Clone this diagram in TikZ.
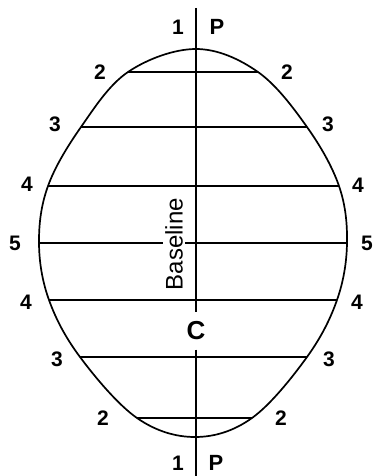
\documentclass[tikz,border=0pt]{standalone}
\usepackage{fontspec}
\setmainfont{Liberation Sans}
\usepackage{tikz}
\usetikzlibrary{calc,positioning}
\tikzset{
  contorno/.style={line width=1.7pt,black},
  nivel/.style={line width=1.7pt,black},
  eje/.style={line width=1.7pt,black},
  num/.style={inner sep=0pt,font=\fontsize{21}{21}\selectfont\bfseries},
  letra/.style={inner sep=0pt,font=\fontsize{22}{22}\selectfont\bfseries}
}

\begin{document}
\begin{tikzpicture}[x=1pt,y=-1pt]
\useasboundingbox (0,0) rectangle (374,476);
% puntos del contorno
\coordinate (T) at (196,49);
\coordinate (L2) at (128,72);   \coordinate (R2) at (258,72);
\coordinate (L3) at (81,127);   \coordinate (R3) at (307,127);
\coordinate (L4) at (48,186);   \coordinate (R4) at (339,186);
\coordinate (L5) at (39,243);   \coordinate (R5) at (347,243);
\coordinate (L4b) at (49,300);  \coordinate (R4b) at (337,300);
\coordinate (L3b) at (80,357);  \coordinate (R3b) at (307,357);
\coordinate (L2b) at (137,418); \coordinate (R2b) at (252,418);
\coordinate (B) at (195,437);
\draw[contorno] plot[smooth cycle,tension=0.6] coordinates
  {(T) (R2) (R3) (R4) (R5) (R4b) (R3b) (R2b) (B) (L2b) (L3b) (L4b) (L5) (L4) (L3) (L2)};
% lineas de nivel
\foreach \n in {2,3,4,5,4b,3b,2b}{
  \draw[nivel] (L\n) -- (R\n);
}
% eje
\coordinate (ejeA) at (196,8);
\coordinate (ejeB) at (196,476);
\node[letra,font=\fontsize{26}{26}\selectfont\bfseries,inner sep=0pt,minimum height=37pt] (C) at (196,331) {C};
\draw[eje] (ejeA) -- (C.north);
\draw[eje] (C.south) -- (ejeB);
\node[rotate=90,fill=white,inner sep=2pt,font=\fontsize{24}{24}\selectfont] (base) at (174,244) {Baseline};
% numeros
\node[num] (n1a) at (178,27) {1};  \node[letra] (pa) at (217,27) {P};
\node[num] (n2l) at (100,72) {2};  \node[num] (n2r) at (287,72) {2};
\node[num] (n3l) at (55,124) {3};  \node[num] (n3r) at (328,124) {3};
\node[num] (n4l) at (27,184) {4};  \node[num] (n4r) at (358,185) {4};
\node[num] (n5l) at (15,243) {5};  \node[num] (n5r) at (367,243) {5};
\node[num] (n4bl) at (26,302) {4}; \node[num] (n4br) at (357,302) {4};
\node[num] (n3bl) at (57,359) {3}; \node[num] (n3br) at (329,359) {3};
\node[num] (n2bl) at (103,418) {2}; \node[num] (n2br) at (281,418) {2};
\node[num] (n1b) at (178,463) {1}; \node[letra] (pb) at (216,463) {P};
\end{tikzpicture}
\end{document}
